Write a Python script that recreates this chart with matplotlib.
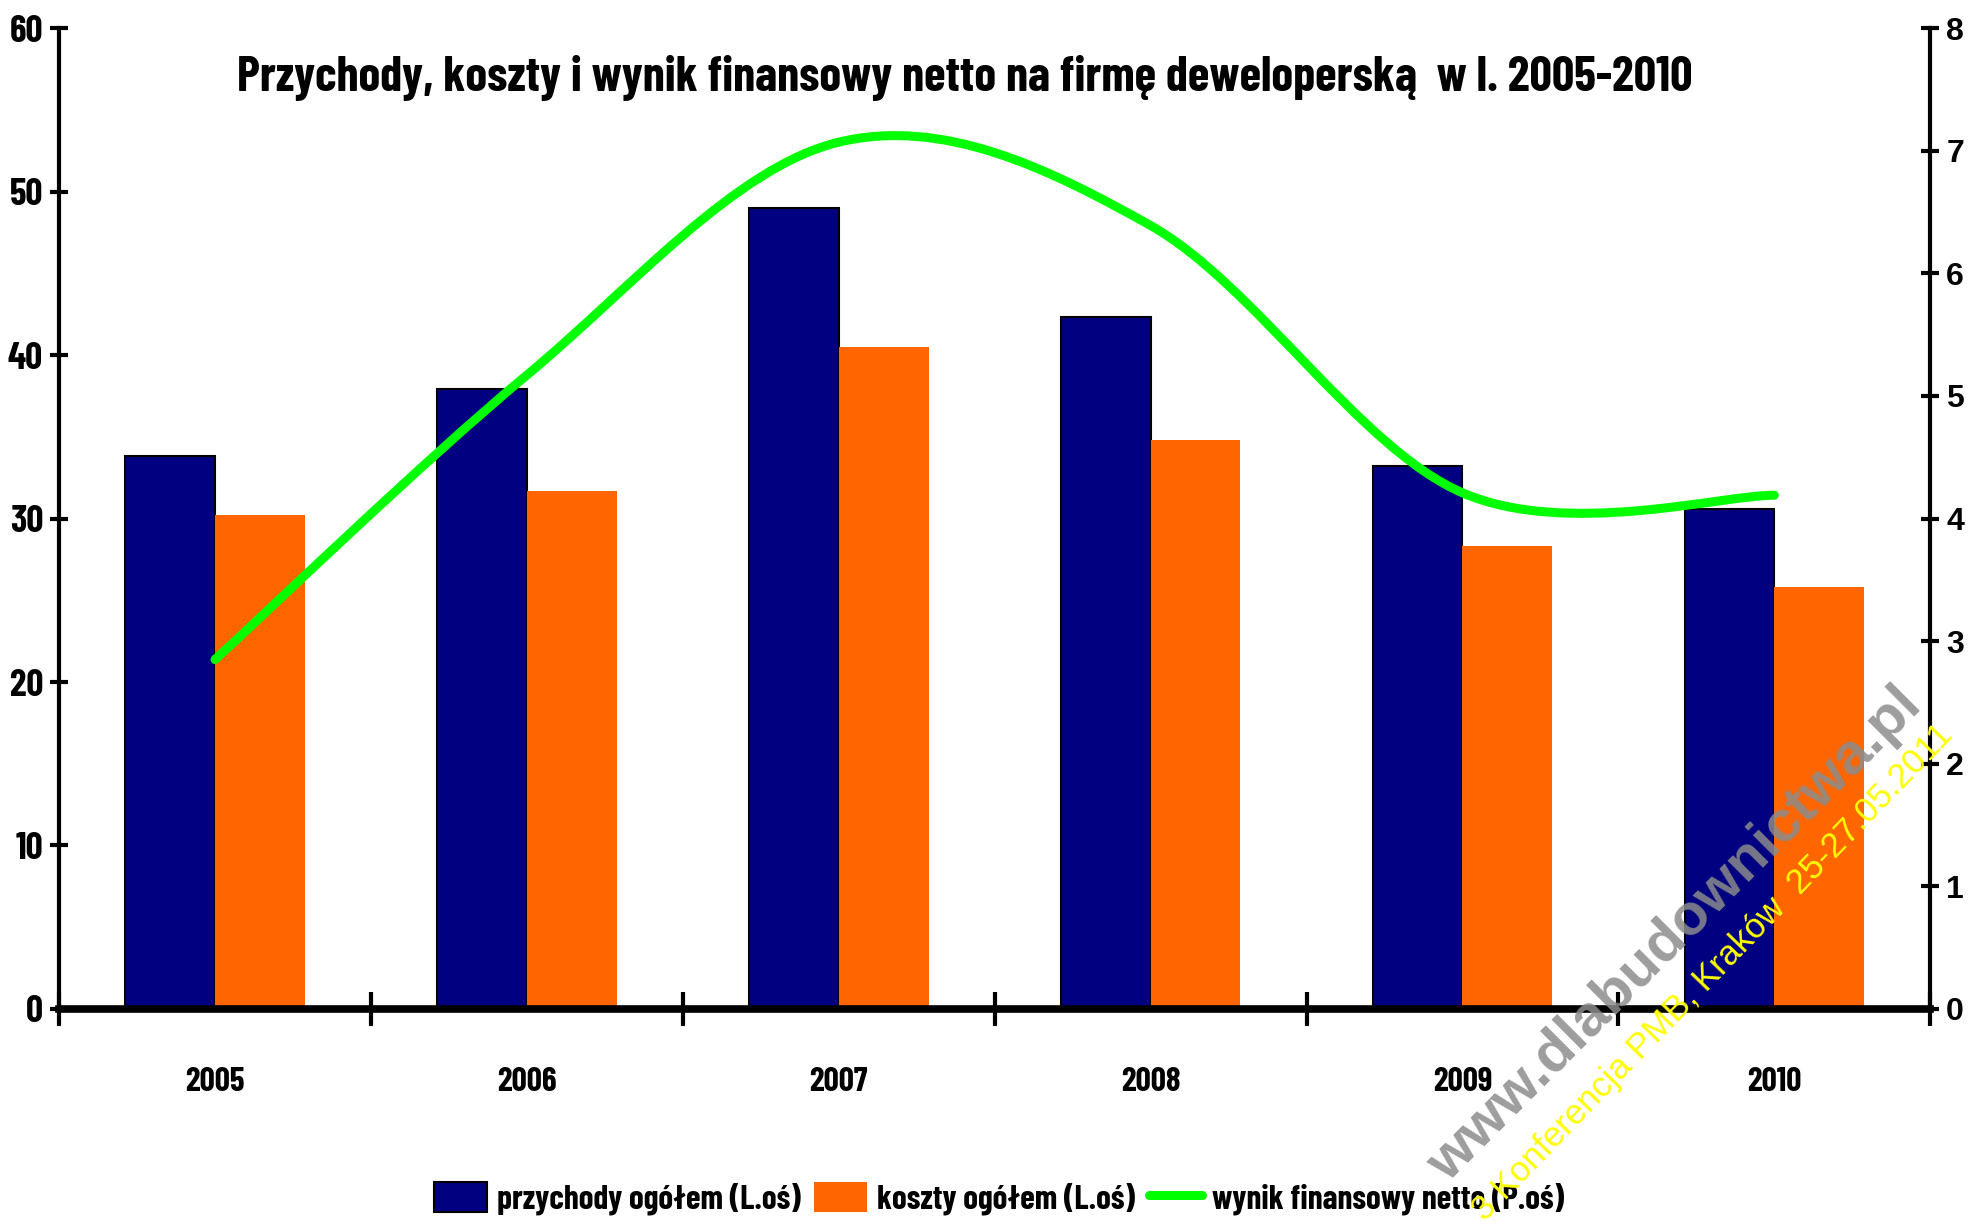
import matplotlib
matplotlib.use("Agg")
import matplotlib.pyplot as plt
from matplotlib.path import Path
from matplotlib.patches import PathPatch, Patch
from matplotlib.lines import Line2D
import numpy as np

# data
years = ["2005", "2006", "2007", "2008", "2009", "2010"]
przychody = [33.8, 37.9, 49.0, 42.3, 33.2, 30.6]
koszty = [30.2, 31.7, 40.5, 34.8, 28.3, 25.8]
wynik = [2.85, 5.17, 7.07, 6.39, 4.21, 4.19]

NAVY = "#000080"
ORANGE = "#FF6600"
GREEN = "#00FF00"
NARROW = ["Barlow Condensed", "DejaVu Sans"]
WIDE = ["Liberation Sans", "DejaVu Sans"]


# Excel style smoothed line: cubic bezier segments through the points
def smooth_path(xs, ys):
    pts = list(zip(xs, ys))
    n = len(pts)
    verts = [pts[0]]
    codes = [Path.MOVETO]
    for i in range(n - 1):
        p0 = np.array(pts[max(i - 1, 0)])
        p1 = np.array(pts[i])
        p2 = np.array(pts[i + 1])
        p3 = np.array(pts[min(i + 2, n - 1)])
        c1 = p1 + (p2 - p0) / 6.0
        c2 = p2 - (p3 - p1) / 6.0
        verts += [tuple(c1), tuple(c2), tuple(p2)]
        codes += [Path.CURVE4] * 3
    return Path(verts, codes)


fig = plt.figure(figsize=(19.82, 12.24), dpi=100)
ax = fig.add_axes([0.0298, 0.1757, 0.9441, 0.8013])
ax2 = ax.twinx()

x = np.arange(len(years))
w = 0.288
ax.bar(x - w / 2, przychody, w, color=NAVY, edgecolor="black", linewidth=1.5, zorder=2)
ax.bar(x + w / 2, koszty, w, color=ORANGE, linewidth=0, zorder=2)

ax.set_xlim(-0.5, len(years) - 0.5)
ax.set_ylim(0, 60)
ax.set_yticks(range(0, 61, 10))
ax2.set_ylim(0, 8)
ax2.set_yticks(range(0, 9))

line = PathPatch(smooth_path(x, wynik), facecolor="none", edgecolor=GREEN,
                 linewidth=6.5, capstyle="round", joinstyle="round",
                 transform=ax2.transData, zorder=3)
ax2.add_patch(line)

# spines
for s in ["top", "right"]:
    ax.spines[s].set_visible(False)
for s in ["top", "left", "bottom"]:
    ax2.spines[s].set_visible(False)
ax.spines["left"].set_linewidth(3)
ax.spines["bottom"].set_linewidth(5.5)
ax2.spines["right"].set_linewidth(3)

# ticks
ax.set_xticks(x)
ax.set_xticklabels(years, fontfamily=NARROW, fontweight="bold", fontsize=24)
ax.set_xticks(np.arange(-0.5, len(years), 1.0), minor=True)
ax.tick_params(axis="x", which="major", length=0, pad=42)
ax.tick_params(axis="x", which="minor", direction="inout", length=24, width=3)
ax.tick_params(axis="y", direction="inout", length=13, width=3, pad=5)
for lab in ax.get_yticklabels():
    lab.set_fontfamily(NARROW)
    lab.set_fontweight("bold")
    lab.set_fontsize(27)
ax2.tick_params(axis="y", direction="inout", length=13, width=3, pad=5)
for lab in ax2.get_yticklabels():
    lab.set_fontfamily(WIDE)
    lab.set_fontweight("bold")
    lab.set_fontsize(23)

fig.text(0.487, 0.936,
         "Przychody, koszty i wynik finansowy netto na firmę deweloperską  w l. 2005-2010",
         ha="center", va="center", fontfamily=NARROW, fontweight="bold", fontsize=35.5)

handles = [
    Patch(facecolor=NAVY, edgecolor="black", linewidth=1.5),
    Patch(facecolor=ORANGE, edgecolor="none"),
    Line2D([0], [0], color=GREEN, linewidth=6.5, solid_capstyle="round"),
]
labels = ["przychody ogółem (L.oś)", "koszty ogółem (L.oś)", "wynik finansowy netto (P.oś)"]
fig.legend(handles, labels, loc="center", bbox_to_anchor=(0.504, 0.021), ncol=3,
           frameon=False, handlelength=1.6, handleheight=1.0, handletextpad=0.3,
           columnspacing=0.4, borderaxespad=0,
           prop={"family": NARROW, "weight": "bold", "size": 24})

# watermark
fig.text(0.845, 0.236, "www.dlabudownictwa.pl", rotation=45, ha="center", va="center",
         rotation_mode="anchor", fontfamily=WIDE, fontweight="bold", fontsize=42,
         color="#8c8c8c", alpha=0.85, zorder=10)
fig.text(0.864, 0.205, "3 Konferencja PMB, Kraków  25-27.05.2011", rotation=46,
         ha="center", va="center", rotation_mode="anchor", fontfamily=WIDE,
         fontsize=25, color="#FFFF00", zorder=11)

fig.savefig("out.png", dpi=100, facecolor="white")
